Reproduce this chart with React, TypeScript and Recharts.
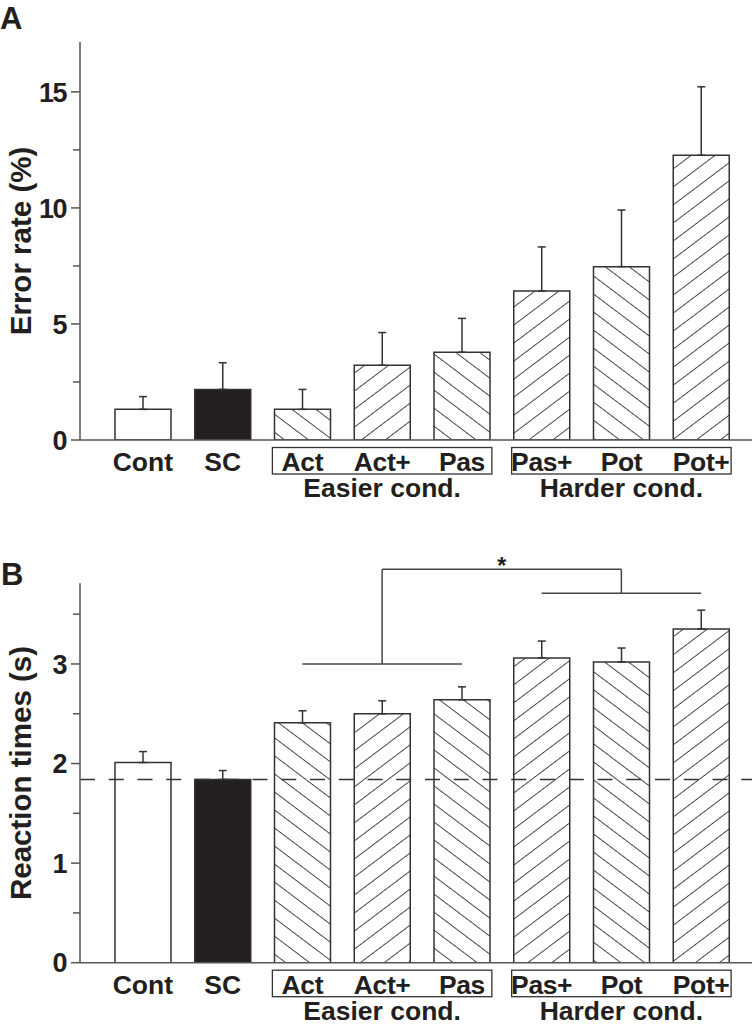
import React from 'react';
import { BarChart, Bar, XAxis, YAxis, ErrorBar, Cell, ReferenceLine, Label } from 'recharts';

// conditions, left to right
const categories = ['Cont', 'SC', 'Act', 'Act+', 'Pas', 'Pas+', 'Pot', 'Pot+'];
const easierGroup = ['Act', 'Act+', 'Pas'];
const harderGroup = ['Pas+', 'Pot', 'Pot+'];
const groupLabels = ['Easier cond.', 'Harder cond.'];

// panel A: error rate (%), mean + upper SEM
const errorRateMean = [1.32, 2.18, 1.32, 3.22, 3.78, 6.42, 7.47, 12.27];
const errorRateSem = [0.55, 1.15, 0.86, 1.41, 1.46, 1.9, 2.44, 2.95];
const errorRateTicks = [0, 2.5, 5, 7.5, 10, 12.5, 15];

// panel B: reaction times (s)
const reactionMean = [2.01, 1.84, 2.41, 2.5, 2.64, 3.06, 3.02, 3.35];
const reactionSem = [0.11, 0.09, 0.12, 0.13, 0.13, 0.17, 0.14, 0.19];
const reactionTicks = [0, 0.5, 1, 1.5, 2, 2.5, 3, 3.5];

// significance bracket heights (s)
const sigEasierY = 3.0;
const sigHarderY = 3.71;
const sigTopY = 3.95;

const FONT = '"Liberation Sans", Arial, Helvetica, sans-serif';
const INK = '#231f20';
const EDGE = '#333';
const AXIS = '#555';

const CHART_W = 755;
const Y_AXIS_W = 80;
const RIGHT_M = 3;
const PAD_L = 23;
const PAD_R = 11;
const BAND = (CHART_W - Y_AXIS_W - RIGHT_M - PAD_L - PAD_R) / categories.length;

const forwardHatch = ['Act+', 'Pas+', 'Pot+'];

const fillFor = (cat: string, prefix: string) => {
  if (cat === 'Cont') return '#fff';
  if (cat === 'SC') return INK;
  return `url(#${prefix}-${forwardHatch.includes(cat) ? 'fwd' : 'back'})`;
};

const buildRows = (means: number[], sems: number[]) =>
  categories.map((name, i) => ({ name, mean: means[i], err: [0, sems[i]] }));

const errorRows = buildRows(errorRateMean, errorRateSem);
const reactionRows = buildRows(reactionMean, reactionSem);

function CategoryTick(props: any) {
  const { x, y, payload } = props;
  const v = payload.value as string;
  const boxed = easierGroup.includes(v) || harderGroup.includes(v);
  let groupName: string | null = null;
  if (easierGroup[1] === v) groupName = groupLabels[0];
  if (harderGroup[1] === v) groupName = groupLabels[1];
  return (
    <g fontFamily={FONT} fontWeight="bold" fill={INK}>
      <text x={x} y={y + 31} textAnchor="middle" fontSize={26.5} letterSpacing={boxed ? -0.4 : 0}>
        {v}
      </text>
      {groupName && (
        <>
          <rect
            x={x - BAND - 30}
            y={y + 7.5}
            width={2 * BAND + 60}
            height={26.5}
            fill="none"
            stroke={EDGE}
            strokeWidth={1.3}
          />
          <text x={x} y={y + 57} textAnchor="middle" fontSize={26.5}>
            {groupName}
          </text>
        </>
      )}
    </g>
  );
}

const makeValueTick = (isMajor: (v: number) => boolean) => (props: any) => {
  const { x, y, payload } = props;
  const major = isMajor(payload.value);
  return (
    <g>
      <line x1={x - (major ? 9 : 7)} y1={y} x2={x} y2={y} stroke={AXIS} strokeWidth={1.5} />
      {major && (
        <text
          x={x - 14}
          y={y}
          dy="0.36em"
          textAnchor="end"
          fontFamily={FONT}
          fontWeight="bold"
          fontSize={27}
          letterSpacing={-1.5}
          fill={INK}
        >
          {payload.value}
        </text>
      )}
    </g>
  );
};

const axisTitle = (text: string) => (props: any) => {
  const vb = props.viewBox;
  const cx = vb.x + 20;
  const cy = vb.y + vb.height / 2;
  return (
    <text
      x={cx}
      y={cy}
      transform={`rotate(-90 ${cx} ${cy})`}
      textAnchor="middle"
      dominantBaseline="central"
      fontFamily={FONT}
      fontWeight="bold"
      fontSize={29.5}
      fill={INK}
    >
      {text}
    </text>
  );
};

const renderStar = (props: any) => {
  const vb = props.viewBox || {};
  const cx = vb.x + (vb.width || 0) / 2;
  return (
    <text x={cx} y={vb.y + 5} textAnchor="middle" fontFamily={FONT} fontWeight="bold" fontSize={23} fill={INK}>
      *
    </text>
  );
};

function Hatches({ prefix }: { prefix: string }) {
  const s = 14.4;
  return (
    <>
      {[
        ['fwd', -37],
        ['back', 37],
      ].map(([k, a]) => (
        <pattern
          key={k}
          id={`${prefix}-${k}`}
          width={s}
          height={s}
          patternUnits="userSpaceOnUse"
          patternTransform={`rotate(${a})`}
        >
          <rect width={s} height={s} fill="#fff" />
          <line x1={0} y1={s / 2} x2={s} y2={s / 2} stroke="#444" strokeWidth={1} />
        </pattern>
      ))}
    </>
  );
}

const xAxisCommon = {
  dataKey: 'name',
  interval: 0 as const,
  tickSize: 0,
  tickMargin: 0,
  tickLine: false,
  axisLine: { stroke: AXIS, strokeWidth: 1.5 },
  tick: (p: any) => <CategoryTick {...p} />,
  padding: { left: PAD_L, right: PAD_R },
};

const yAxisCommon = {
  width: Y_AXIS_W,
  interval: 0 as const,
  allowDataOverflow: true,
  tickSize: 0,
  tickMargin: 0,
  tickLine: false,
  axisLine: { stroke: AXIS, strokeWidth: 1.5 },
};

const sigLine = { stroke: '#444', strokeWidth: 1.5, ifOverflow: 'visible' as const };

export default function App() {
  return (
    <div style={{ position: 'absolute', left: 0, top: 0, width: 755, height: 1024, background: '#fff' }}>
      <svg
        width={755}
        height={1024}
        style={{ position: 'absolute', left: 0, top: 0, pointerEvents: 'none', zIndex: 2 }}
      >
        <text x={0} y={29} fontFamily={FONT} fontWeight="bold" fontSize={31} fill={INK}>
          A
        </text>
        <text x={1} y={585} fontFamily={FONT} fontWeight="bold" fontSize={31} fill={INK}>
          B
        </text>
      </svg>

      <BarChart width={CHART_W} height={540} data={errorRows} margin={{ top: 42, right: RIGHT_M, bottom: 0, left: 0 }}>
        <defs>
          <Hatches prefix="a" />
        </defs>
        <XAxis {...xAxisCommon} height={100} />
        <YAxis
          {...yAxisCommon}
          domain={[0, 17.15]}
          ticks={errorRateTicks}
          tick={makeValueTick((v) => v % 5 === 0)}
        >
          <Label content={axisTitle('Error rate (%)')} />
        </YAxis>
        <Bar dataKey="mean" barSize={56} stroke={EDGE} strokeWidth={1.5} isAnimationActive={false}>
          {errorRows.map((r) => (
            <Cell key={r.name} fill={fillFor(r.name, 'a')} />
          ))}
          <ErrorBar dataKey="err" direction="y" width={4} stroke={EDGE} strokeWidth={1.5} isAnimationActive={false} />
        </Bar>
      </BarChart>

      <BarChart
        width={CHART_W}
        height={484}
        data={reactionRows}
        margin={{ top: 43.3, right: RIGHT_M, bottom: 0, left: 0 }}
      >
        <defs>
          <Hatches prefix="b" />
        </defs>
        <XAxis {...xAxisCommon} height={61.3} />
        <YAxis
          {...yAxisCommon}
          domain={[0, 3.81]}
          ticks={reactionTicks}
          tick={makeValueTick((v) => Number.isInteger(v))}
        >
          <Label content={axisTitle('Reaction times (s)')} />
        </YAxis>
        <Bar dataKey="mean" barSize={56} stroke={EDGE} strokeWidth={1.5} isAnimationActive={false}>
          {reactionRows.map((r) => (
            <Cell key={r.name} fill={fillFor(r.name, 'b')} />
          ))}
          <ErrorBar dataKey="err" direction="y" width={4} stroke={EDGE} strokeWidth={1.5} isAnimationActive={false} />
        </Bar>
        <ReferenceLine
          y={reactionMean[1]}
          stroke={EDGE}
          strokeWidth={1.5}
          strokeDasharray="15 13.75"
        />
        <ReferenceLine
          {...sigLine}
          segment={[
            { x: easierGroup[0], y: sigEasierY },
            { x: easierGroup[2], y: sigEasierY },
          ]}
        />
        <ReferenceLine
          {...sigLine}
          segment={[
            { x: easierGroup[1], y: sigEasierY },
            { x: easierGroup[1], y: sigTopY },
          ]}
        />
        <ReferenceLine
          {...sigLine}
          segment={[
            { x: easierGroup[1], y: sigTopY },
            { x: harderGroup[1], y: sigTopY },
          ]}
          label={renderStar}
        />
        <ReferenceLine
          {...sigLine}
          segment={[
            { x: harderGroup[1], y: sigTopY },
            { x: harderGroup[1], y: sigHarderY },
          ]}
        />
        <ReferenceLine
          {...sigLine}
          segment={[
            { x: harderGroup[0], y: sigHarderY },
            { x: harderGroup[2], y: sigHarderY },
          ]}
        />
      </BarChart>
    </div>
  );
}
